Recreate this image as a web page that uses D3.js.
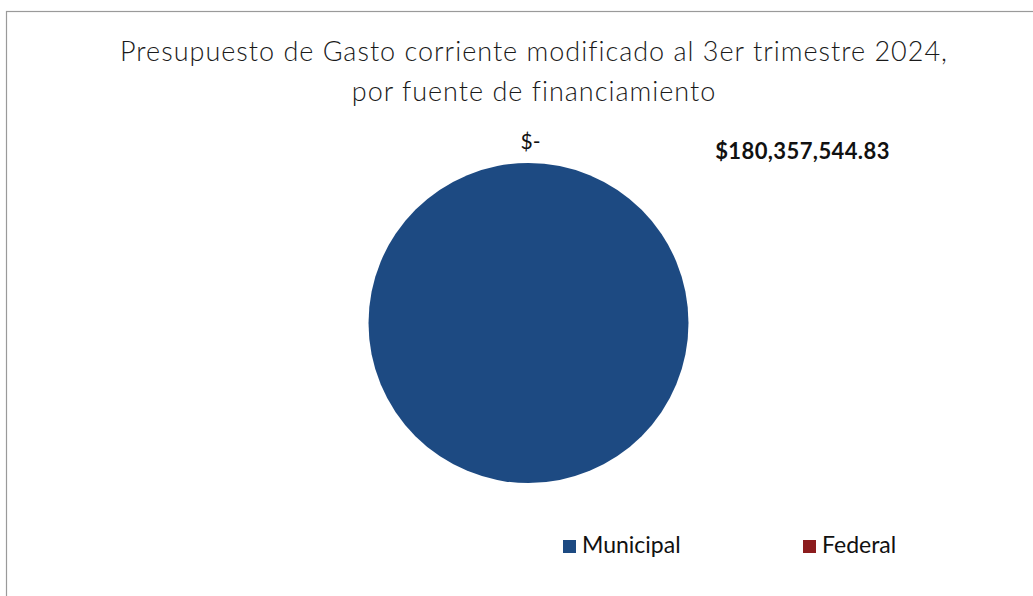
<!DOCTYPE html>
<html lang="es">
	<head>
		<meta charset="utf-8">
		<title>Presupuesto de Gasto corriente</title>
		<script src="https://cdn.jsdelivr.net/npm/d3@7"></script>
		<style type="text/css">
			html, body {
				margin: 0;
				background-color: white;
			}
		</style>
	</head>
	<body>
		<script type="text/javascript">

			//Data
			var fuentes = ["Municipal", "Federal"];
			var montos = [180357544.83, 0];
			var etiquetas = ["$180,357,544.83", "$-"];
			var colores = ["#1d4a82", "#8c1c1e"];

			var w = 1033;
			var h = 596;

			var svg = d3.select("body")
						.append("svg")
						.attr("width", w)
						.attr("height", h);

			//Chart frame
			svg.append("rect")
				.attr("x", 6.5)
				.attr("y", 11.5)
				.attr("width", w + 20)
				.attr("height", h + 20)
				.attr("fill", "white")
				.attr("stroke", "#9a9a9a")
				.attr("stroke-width", 1.2);

			//Title
			var title = svg.append("text")
				.attr("text-anchor", "middle")
				.attr("font-family", "Lato, sans-serif")
				.attr("font-weight", 300)
				.attr("font-size", "27px")
				.attr("letter-spacing", "1px")
				.attr("fill", "#1a1a1a");
			title.append("tspan").attr("x", 534).attr("y", 61)
				.text("Presupuesto de Gasto corriente modificado al 3er trimestre 2024,");
			title.append("tspan").attr("x", 534).attr("y", 101)
				.text("por fuente de financiamiento");

			//Pie
			var cx = 528.5, cy = 323, r = 160;
			var pie = d3.pie().sort(null).value(function(d) { return d; });
			var arc = d3.arc().innerRadius(0).outerRadius(r);
			var arcs = pie(montos);

			var g = svg.append("g").attr("transform", "translate(" + cx + "," + cy + ")");

			g.selectAll("path")
			 .data(arcs)
			 .enter()
			 .append("path")
			 .attr("d", arc)
			 .attr("fill", function(d, i) { return colores[i]; });

			//Data labels (Federal sits on its zero-width slice, Municipal was moved aside)
			var labelArc = d3.arc().innerRadius(r + 19).outerRadius(r + 19);
			g.append("text")
			 .attr("x", labelArc.centroid(arcs[1])[0] + 2)
			 .attr("y", labelArc.centroid(arcs[1])[1])
			 .attr("text-anchor", "middle")
			 .attr("dominant-baseline", "middle")
			 .attr("font-family", "Lato, sans-serif")
			 .attr("font-size", "21px")
			 .attr("fill", "#111")
			 .text(etiquetas[1]);

			g.append("text")
			 .attr("x", 274)
			 .attr("y", -164)
			 .attr("text-anchor", "middle")
			 .attr("font-family", "Lato, sans-serif")
			 .attr("font-weight", "bold")
			 .attr("font-size", "22px")
			 .attr("letter-spacing", "0.4px")
			 .attr("fill", "#111")
			 .text(etiquetas[0]);

			//Legend
			var legendX = d3.scalePoint().domain(fuentes).range([563, 803]);

			var leg = svg.selectAll("g.legend")
				.data(fuentes)
				.enter()
				.append("g")
				.attr("class", "legend")
				.attr("transform", function(d) { return "translate(" + legendX(d) + ",547)"; });

			leg.append("rect")
				.attr("x", 0)
				.attr("y", -7)
				.attr("width", 13)
				.attr("height", 13)
				.attr("fill", function(d, i) { return colores[i]; });

			leg.append("text")
				.attr("x", 19)
				.attr("y", 0)
				.attr("dominant-baseline", "middle")
				.attr("font-family", "Lato, sans-serif")
				.attr("font-size", "23px")
				.attr("fill", "#111")
				.text(function(d) { return d; });

		</script>
	</body>
</html>
